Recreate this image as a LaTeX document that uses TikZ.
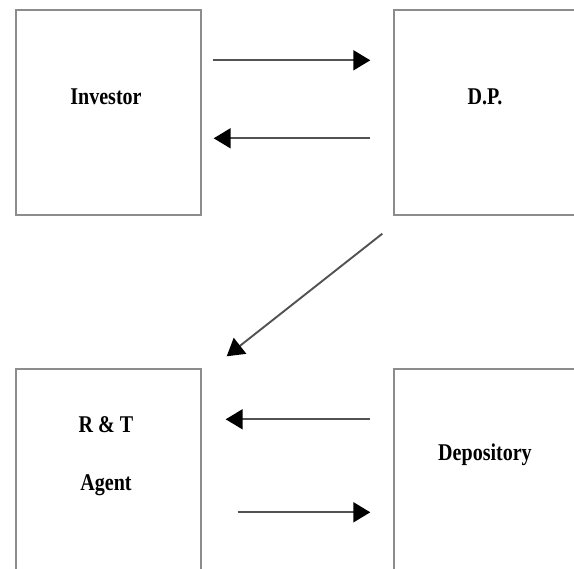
\documentclass[tikz,border=0pt]{standalone}
\usepackage{fontspec}
\setmainfont{Liberation Serif}
\newfontfamily\labfont[FakeStretch=0.835]{Liberation Serif}
\usetikzlibrary{arrows.meta,calc}
\tikzset{
  boxnode/.style={draw=black!45, line width=1.4pt, minimum width=185pt, minimum height=205pt, inner sep=0pt},
  txt/.style={font=\labfont\bfseries\fontsize{24}{27}\selectfont, inner sep=0pt},
  arr/.style={draw=black!68, line width=1.9pt, -{Triangle[length=17pt,width=20pt,color=black,fill=black]}}
}
\begin{document}
\begin{tikzpicture}[x=1pt,y=-1pt]
\useasboundingbox (0,0) rectangle (574,569);
\fill[white] (0,0) rectangle (574,569);
\clip (0,0) rectangle (574,569);
\node[boxnode] (inv) at (108.5,112.5) {};
\node[boxnode] (dp) at (486.5,112.5) {};
\node[boxnode] (rt) at (108.5,471.5) {};
\node[boxnode] (dep) at (486.5,471.5) {};
\node[txt] (tinv) at (106,97) {Investor};
\node[txt] (tdp) at (485,97) {D.P.};
\node[txt] (trt1) at (106,425) {R \& T};
\node[txt] (trt2) at (106,485) {Agent};
\node[txt] (tdep) at (485,455) {Depository};
\draw[arr] ($(inv.north east)+(11,51)$) -- ($(dp.north west)+(-23,51)$);
\draw[arr] ($(dp.north west)+(-23,129)$) -- ($(inv.north east)+(12,129)$);
\draw[arr] ($(dp.south west)+(-11,18)$) -- ($(rt.north east)+(25,-12)$);
\draw[arr] ($(dep.north west)+(-23,51)$) -- ($(rt.north east)+(24,51)$);
\draw[arr] ($(rt.north east)+(36,144)$) -- ($(dep.north west)+(-23,144)$);
\end{tikzpicture}
\end{document}
